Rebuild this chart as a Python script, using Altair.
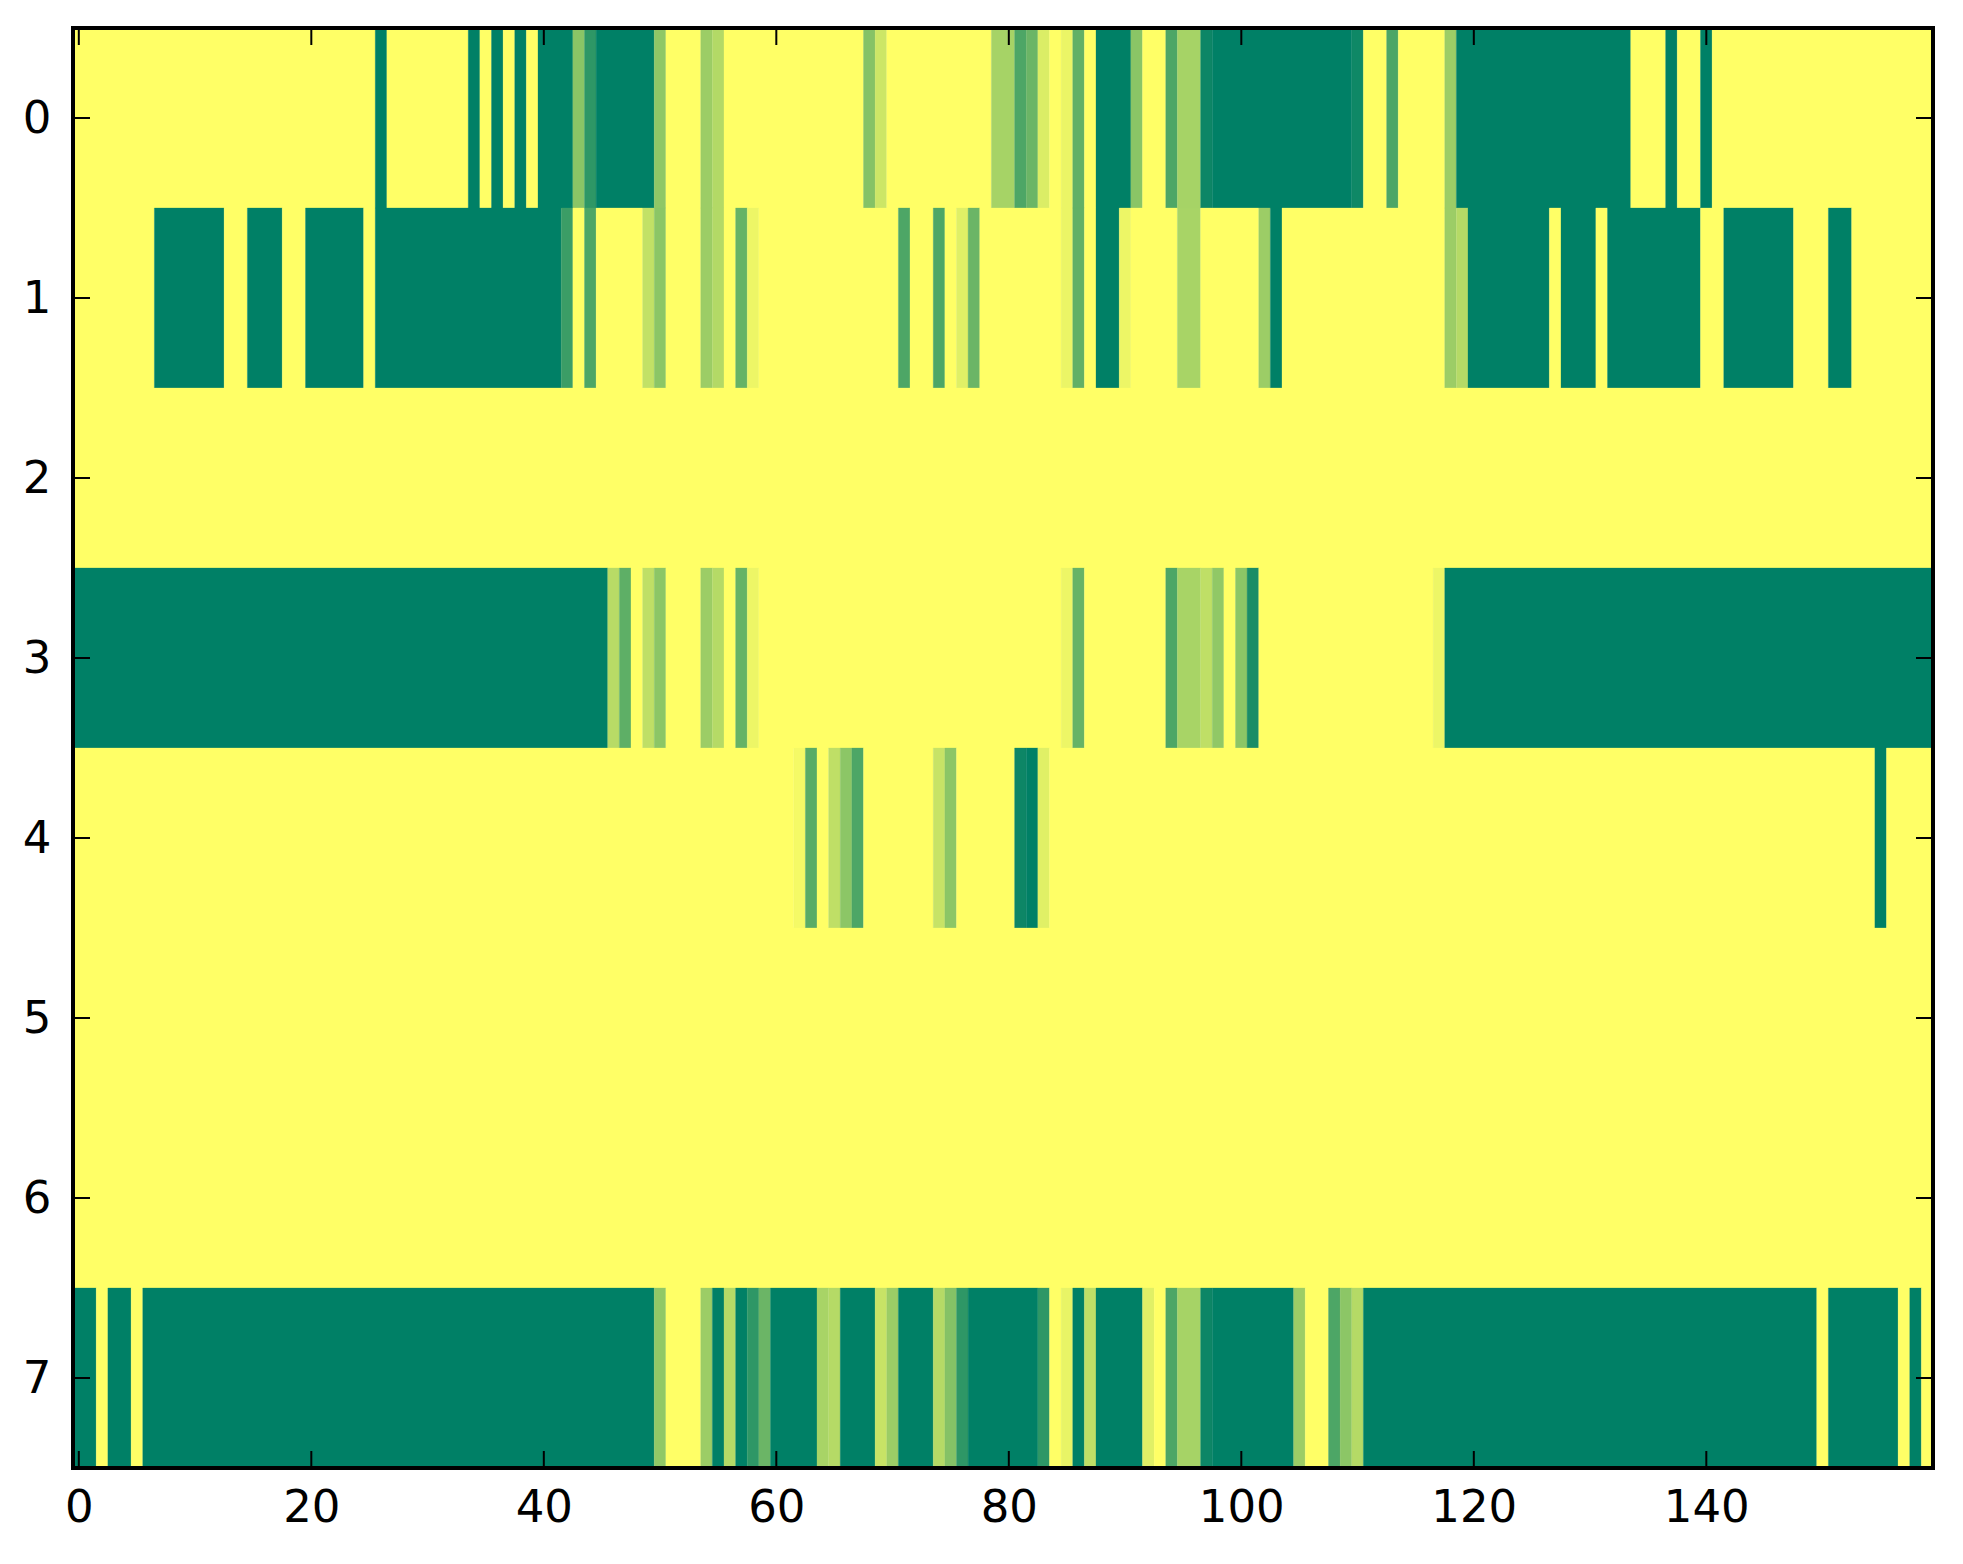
import altair as alt
import pandas as pd

# heatmap values (0 = yellow, 1 = dark green), 8 rows x 160 columns
row0 = [0, 0, 0, 0, 0, 0, 0, 0, 0, 0,  0, 0, 0, 0, 0, 0, 0, 0, 0, 0,
        0, 0, 0, 0, 0, 0, 1, 0, 0, 0,  0, 0, 0, 0, 1, 0, 1, 0, 1, 0,
        1, 1, 1, .46, .82, 1, 1, 1, 1, 1,  .44, 0, 0, 0, .39, .30, 0, 0, 0, 0,
        0, 0, 0, 0, 0, 0, 0, 0, .48, .20,  0, 0, 0, 0, 0, 0, 0, 0, 0, .35,
        .35, .70, .58, .14, 0, .08, .62, 0, 1, 1,  1, .46, 0, 0, .70, .35, .35, .95, 1, 1,
        1, 1, 1, 1, 1, 1, 1, 1, 1, 1,  .94, 0, 0, .70, 0, 0, 0, 0, .39, 1,
        1, 1, 1, 1, 1, 1, 1, 1, 1, 1,  1, 1, 1, 1, 0, 0, 0, 1, 0, 0,
        1, 0, 0, 0, 0, 0, 0, 0, 0, 0,  0, 0, 0, 0, 0, 0, 0, 0, 0, 0]
row1 = [0, 0, 0, 0, 0, 0, 0, 1, 1, 1,  1, 1, 1, 0, 0, 1, 1, 1, 0, 0,
        1, 1, 1, 1, 1, 0, 1, 1, 1, 1,  1, 1, 1, 1, 1, 1, 1, 1, 1, 1,
        1, 1, .77, 0, .70, 0, 0, 0, 0, .24,  .45, 0, 0, 0, .39, .30, 0, .60, .07, 0,
        0, 0, 0, 0, 0, 0, 0, 0, 0, 0,  0, .70, 0, 0, .70, 0, .12, .58, 0, 0,
        0, 0, 0, 0, 0, .08, .62, 0, 1, 1,  .07, 0, 0, 0, 0, .34, .34, 0, 0, 0,
        0, 0, .39, 1, 0, 0, 0, 0, 0, 0,  0, 0, 0, 0, 0, 0, 0, 0, .39, .29,
        1, 1, 1, 1, 1, 1, 1, 0, 1, 1,  1, 0, 1, 1, 1, 1, 1, 1, 1, 1,
        0, 0, 1, 1, 1, 1, 1, 1, 0, 0,  0, 1, 1, 0, 0, 0, 0, 0, 0, 0]
row2 = [0, 0, 0, 0, 0, 0, 0, 0, 0, 0,  0, 0, 0, 0, 0, 0, 0, 0, 0, 0,
        0, 0, 0, 0, 0, 0, 0, 0, 0, 0,  0, 0, 0, 0, 0, 0, 0, 0, 0, 0,
        0, 0, 0, 0, 0, 0, 0, 0, 0, 0,  0, 0, 0, 0, 0, 0, 0, 0, 0, 0,
        0, 0, 0, 0, 0, 0, 0, 0, 0, 0,  0, 0, 0, 0, 0, 0, 0, 0, 0, 0,
        0, 0, 0, 0, 0, 0, 0, 0, 0, 0,  0, 0, 0, 0, 0, 0, 0, 0, 0, 0,
        0, 0, 0, 0, 0, 0, 0, 0, 0, 0,  0, 0, 0, 0, 0, 0, 0, 0, 0, 0,
        0, 0, 0, 0, 0, 0, 0, 0, 0, 0,  0, 0, 0, 0, 0, 0, 0, 0, 0, 0,
        0, 0, 0, 0, 0, 0, 0, 0, 0, 0,  0, 0, 0, 0, 0, 0, 0, 0, 0, 0]
row3 = [1, 1, 1, 1, 1, 1, 1, 1, 1, 1,  1, 1, 1, 1, 1, 1, 1, 1, 1, 1,
        1, 1, 1, 1, 1, 1, 1, 1, 1, 1,  1, 1, 1, 1, 1, 1, 1, 1, 1, 1,
        1, 1, 1, 1, 1, 1, .28, .63, 0, .25,  .45, 0, 0, 0, .39, .29, 0, .60, .07, 0,
        0, 0, 0, 0, 0, 0, 0, 0, 0, 0,  0, 0, 0, 0, 0, 0, 0, 0, 0, 0,
        0, 0, 0, 0, 0, .07, .60, 0, 0, 0,  0, 0, 0, 0, .70, .34, .34, .25, .43, 0,
        .45, .90, 0, 0, 0, 0, 0, 0, 0, 0,  0, 0, 0, 0, 0, 0, 0, .07, 1, 1,
        1, 1, 1, 1, 1, 1, 1, 1, 1, 1,  1, 1, 1, 1, 1, 1, 1, 1, 1, 1,
        1, 1, 1, 1, 1, 1, 1, 1, 1, 1,  1, 1, 1, 1, 1, 1, 1, 1, 1, 1]
row4 = [0, 0, 0, 0, 0, 0, 0, 0, 0, 0,  0, 0, 0, 0, 0, 0, 0, 0, 0, 0,
        0, 0, 0, 0, 0, 0, 0, 0, 0, 0,  0, 0, 0, 0, 0, 0, 0, 0, 0, 0,
        0, 0, 0, 0, 0, 0, 0, 0, 0, 0,  0, 0, 0, 0, 0, 0, 0, 0, 0, 0,
        0, 0, .04, .65, 0, .25, .45, .70, 0, 0,  0, 0, 0, 0, .22, .45, 0, 0, 0, 0,
        0, .95, 1, .12, 0, 0, 0, 0, 0, 0,  0, 0, 0, 0, 0, 0, 0, 0, 0, 0,
        0, 0, 0, 0, 0, 0, 0, 0, 0, 0,  0, 0, 0, 0, 0, 0, 0, 0, 0, 0,
        0, 0, 0, 0, 0, 0, 0, 0, 0, 0,  0, 0, 0, 0, 0, 0, 0, 0, 0, 0,
        0, 0, 0, 0, 0, 0, 0, 0, 0, 0,  0, 0, 0, 0, 0, 1, 0, 0, 0, 0]
row5 = [0, 0, 0, 0, 0, 0, 0, 0, 0, 0,  0, 0, 0, 0, 0, 0, 0, 0, 0, 0,
        0, 0, 0, 0, 0, 0, 0, 0, 0, 0,  0, 0, 0, 0, 0, 0, 0, 0, 0, 0,
        0, 0, 0, 0, 0, 0, 0, 0, 0, 0,  0, 0, 0, 0, 0, 0, 0, 0, 0, 0,
        0, 0, 0, 0, 0, 0, 0, 0, 0, 0,  0, 0, 0, 0, 0, 0, 0, 0, 0, 0,
        0, 0, 0, 0, 0, 0, 0, 0, 0, 0,  0, 0, 0, 0, 0, 0, 0, 0, 0, 0,
        0, 0, 0, 0, 0, 0, 0, 0, 0, 0,  0, 0, 0, 0, 0, 0, 0, 0, 0, 0,
        0, 0, 0, 0, 0, 0, 0, 0, 0, 0,  0, 0, 0, 0, 0, 0, 0, 0, 0, 0,
        0, 0, 0, 0, 0, 0, 0, 0, 0, 0,  0, 0, 0, 0, 0, 0, 0, 0, 0, 0]
row6 = [0, 0, 0, 0, 0, 0, 0, 0, 0, 0,  0, 0, 0, 0, 0, 0, 0, 0, 0, 0,
        0, 0, 0, 0, 0, 0, 0, 0, 0, 0,  0, 0, 0, 0, 0, 0, 0, 0, 0, 0,
        0, 0, 0, 0, 0, 0, 0, 0, 0, 0,  0, 0, 0, 0, 0, 0, 0, 0, 0, 0,
        0, 0, 0, 0, 0, 0, 0, 0, 0, 0,  0, 0, 0, 0, 0, 0, 0, 0, 0, 0,
        0, 0, 0, 0, 0, 0, 0, 0, 0, 0,  0, 0, 0, 0, 0, 0, 0, 0, 0, 0,
        0, 0, 0, 0, 0, 0, 0, 0, 0, 0,  0, 0, 0, 0, 0, 0, 0, 0, 0, 0,
        0, 0, 0, 0, 0, 0, 0, 0, 0, 0,  0, 0, 0, 0, 0, 0, 0, 0, 0, 0,
        0, 0, 0, 0, 0, 0, 0, 0, 0, 0,  0, 0, 0, 0, 0, 0, 0, 0, 0, 0]
row7 = [1, 1, 0, 1, 1, 0, 1, 1, 1, 1,  1, 1, 1, 1, 1, 1, 1, 1, 1, 1,
        1, 1, 1, 1, 1, 1, 1, 1, 1, 1,  1, 1, 1, 1, 1, 1, 1, 1, 1, 1,
        1, 1, 1, 1, 1, 1, 1, 1, 1, 1,  .43, 0, 0, 0, .39, 1, .29, 1, .82, .58,
        1, 1, 1, 1, .34, .29, 1, 1, 1, .22,  .39, 1, 1, 1, .29, .48, .82, 1, 1, 1,
        1, 1, 1, .82, 0, .09, 1, .25, 1, 1,  1, 1, .12, 0, .70, .35, .35, .95, 1, 1,
        1, 1, 1, 1, 1, .39, 0, 0, .70, .45,  .29, 1, 1, 1, 1, 1, 1, 1, 1, 1,
        1, 1, 1, 1, 1, 1, 1, 1, 1, 1,  1, 1, 1, 1, 1, 1, 1, 1, 1, 1,
        1, 1, 1, 1, 1, 1, 1, 1, 1, 1,  0, 1, 1, 1, 1, 1, 1, 0, 1, 0]

rows = [row0, row1, row2, row3, row4, row5, row6, row7]
x_ticks = [0, 20, 40, 60, 80, 100, 120, 140]
y_ticks = [0, 1, 2, 3, 4, 5, 6, 7]

# table of cells; consecutive equal cells in a row are joined into one rect
recs = []
for r, vals in enumerate(rows):
    start = 0
    for c in range(1, len(vals) + 1):
        if c == len(vals) or vals[c] != vals[start]:
            recs.append({"row": r, "v": vals[start],
                         "x0": start - 0.5, "x1": c - 0.5,
                         "y0": r - 0.5, "y1": r + 0.5})
            start = c
df = pd.DataFrame(recs)

W, H = 1860, 1440
TL = 17
FONT = "DejaVu Sans"

xs = alt.Scale(domain=[-0.5, 159.5], nice=False, zero=False)
ys = alt.Scale(domain=[-0.5, 7.5], nice=False, zero=False, reverse=True)
cs = alt.Scale(domain=[0, 1], range=["#ffff66", "#008066"], interpolate="rgb")

xaxis = alt.Axis(values=x_ticks, format="d", title=None, ticks=False, domain=False,
                 grid=False, labelFlush=False, labelOverlap=False, labelPadding=17,
                 labelFontSize=45, labelFont=FONT, labelColor="black")
yaxis = alt.Axis(values=y_ticks, format="d", title=None, ticks=False, domain=False,
                 grid=False, labelOverlap=False, labelPadding=22,
                 labelFontSize=45, labelFont=FONT, labelColor="black")

heat = alt.Chart(df).mark_rect(strokeWidth=0.3).encode(
    x=alt.X("x0:Q", scale=xs, axis=xaxis),
    x2="x1:Q",
    y=alt.Y("y0:Q", scale=ys, axis=yaxis),
    y2="y1:Q",
    fill=alt.Fill("v:Q", scale=cs, legend=None),
    stroke=alt.Stroke("v:Q", scale=cs, legend=None),
)

xt = pd.DataFrame({"t": x_ticks})
yt = pd.DataFrame({"t": y_ticks})

xb = alt.Chart(xt).mark_rule(color="black", strokeWidth=2).encode(
    x=alt.X("t:Q", scale=xs, axis=xaxis), y=alt.value(H), y2=alt.value(H - TL))
xtop = alt.Chart(xt).mark_rule(color="black", strokeWidth=2).encode(
    x=alt.X("t:Q", scale=xs, axis=xaxis), y=alt.value(0), y2=alt.value(TL))
yl = alt.Chart(yt).mark_rule(color="black", strokeWidth=2).encode(
    y=alt.Y("t:Q", scale=ys, axis=yaxis), x=alt.value(0), x2=alt.value(TL))
yr = alt.Chart(yt).mark_rule(color="black", strokeWidth=2).encode(
    y=alt.Y("t:Q", scale=ys, axis=yaxis), x=alt.value(W - TL), x2=alt.value(W))

frame = alt.Chart(pd.DataFrame({"a": [0]})).mark_rect(
    filled=False, stroke="black", strokeWidth=4).encode(
    x=alt.value(0), x2=alt.value(W), y=alt.value(0), y2=alt.value(H))

chart = alt.layer(heat, xb, xtop, yl, yr, frame).properties(
    width=W, height=H,
    autosize=alt.AutoSizeParams(type="none"),
    padding={"left": 65, "top": 20, "right": 20, "bottom": 80},
    background="white",
).configure_view(strokeWidth=0)

chart.save("out.html", embed_options={"renderer": "svg", "actions": False})
